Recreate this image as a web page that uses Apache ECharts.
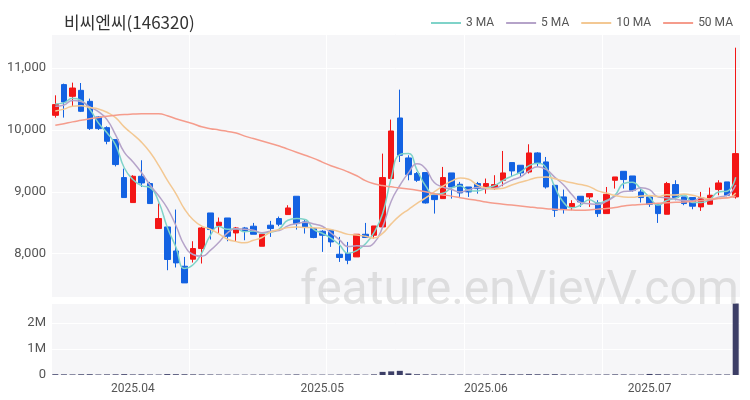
<!DOCTYPE html>
<html><head><meta charset="utf-8">
<script src="https://cdn.jsdelivr.net/npm/echarts/dist/echarts.min.js"></script>
<style>html,body{margin:0;padding:0;background:#fff}#c{width:750px;height:400px}</style>
</head><body><div id="c"></div>
<script>
const dates = [
'2025-03-19','2025-03-20','2025-03-21','2025-03-24','2025-03-25','2025-03-26','2025-03-27','2025-03-28','2025-03-31',
'2025-04-01','2025-04-02','2025-04-03','2025-04-04','2025-04-07','2025-04-08','2025-04-09','2025-04-10','2025-04-11',
'2025-04-14','2025-04-15','2025-04-16','2025-04-17','2025-04-18','2025-04-21','2025-04-22','2025-04-23','2025-04-24',
'2025-04-25','2025-04-28','2025-04-29','2025-04-30',
'2025-05-02','2025-05-07','2025-05-08','2025-05-09','2025-05-12','2025-05-13','2025-05-14','2025-05-15','2025-05-16',
'2025-05-19','2025-05-20','2025-05-21','2025-05-22','2025-05-23','2025-05-26','2025-05-27','2025-05-28','2025-05-29','2025-05-30',
'2025-06-02','2025-06-04','2025-06-05','2025-06-09','2025-06-10','2025-06-11','2025-06-12','2025-06-13','2025-06-16',
'2025-06-17','2025-06-18','2025-06-19','2025-06-20','2025-06-23','2025-06-24','2025-06-25','2025-06-26','2025-06-27','2025-06-30',
'2025-07-01','2025-07-02','2025-07-03','2025-07-04','2025-07-07','2025-07-08','2025-07-09','2025-07-10','2025-07-11','2025-07-14','2025-07-15'
];
const opens = [10236,10732,10543,10640,10462,10209,10037,9844,9230,8826,9251,9133,8406,8432,8044,7797,7911,8083,8658,8455,
8577,8335,8416,8444,8120,8460,8568,8632,8928,8513,8406,8363,8379,7991,8003,7948,8314,8298,8432,9214,
10193,9547,9295,9311,8944,8890,9305,9122,9078,9133,9052,9052,9186,9472,9429,9320,9628,9483,9105,8917,
8756,8928,8917,8826,8648,9186,9331,9256,8998,8917,8799,8637,9117,8917,8907,8756,8799,9036,9160,8917];
const closes = [10409,10451,10677,10301,10021,10021,9816,9440,8907,9251,9143,8810,8568,7906,7851,7528,8083,8416,8390,8508,
8282,8416,8367,8314,8314,8406,8476,8739,8487,8432,8261,8298,8190,7938,7894,8314,8261,8448,9230,9983,
9590,9278,9186,8820,8874,9230,9078,8982,8998,9052,9133,9116,9305,9337,9305,9628,9456,9078,8702,8713,
8810,8836,8971,8648,8960,9240,9198,9025,8907,8799,8648,9133,8907,8810,8767,8907,8944,9143,8944,9617];
const lows = [10199,10199,10386,10289,10000,10000,9768,9410,8907,8826,9078,8810,8406,7733,7777,7528,7857,7841,8229,8325,
8201,8201,8217,8314,8120,8271,8444,8632,8390,8325,8250,8029,8110,7867,7830,7948,8261,8245,8432,9214,
9482,9186,9160,8810,8648,8890,8890,8917,8917,8970,8970,9030,9090,9240,9240,9295,9402,9052,8594,8648,
8702,8756,8756,8594,8648,9052,9052,8998,8826,8756,8497,8637,8863,8783,8718,8691,8799,8944,8928,8890];
const highs = [10559,10748,10764,10758,10506,10220,10058,9844,9375,9268,9510,9160,8810,8432,8713,7948,8201,8432,8658,8584,
8577,8432,8432,8497,8314,8530,8600,8783,8928,8551,8422,8379,8379,8271,8190,8314,8497,8448,9617,10167,
10651,9590,9320,9311,8944,9402,9305,9160,9078,9160,9214,9268,9660,9472,9429,9768,9640,9563,9105,9036,
8864,8928,8971,8864,9078,9240,9331,9256,9078,8917,8799,9160,9187,8917,8907,8998,9068,9187,9160,11329];
const volumes = [30000,25000,22000,28000,30000,20000,24000,26000,32000,22000,26000,20000,18000,34000,30000,28000,24000,22000,20000,18000,
16000,15000,14000,16000,18000,15000,14000,18000,22000,16000,14000,15000,14000,18000,16000,20000,14000,24000,120000,140000,
160000,60000,30000,24000,22000,20000,22000,18000,16000,15000,16000,18000,30000,26000,24000,30000,28000,26000,30000,22000,
20000,18000,16000,18000,20000,24000,22000,18000,16000,40000,30000,24000,20000,18000,16000,18000,20000,22000,20000,2750000];
const preCloses = [10150,10200,10250,10300,10250,10350,10300,10400,10450];
const ma50 = [10074,10100,10130,10155,10180,10200,10220,10236,10248,10256,10262,10263,10260,10230,10180,10140,10100,10050,10020,10000,
9975,9950,9900,9860,9820,9780,9740,9690,9640,9590,9540,9480,9420,9374,9320,9260,9180,9130,9100,9080,
9060,9045,9025,9000,8970,8950,8930,8905,8880,8860,8835,8815,8800,8785,8770,8755,8740,8728,8720,8712,
8705,8700,8705,8720,8730,8745,8770,8785,8795,8805,8815,8825,8830,8835,8845,8860,8875,8890,8905,8927];
const legendNames = ['3 MA','5 MA','10 MA','50 MA'];
const maColors = ['#7fd3c9','#b5a3c9','#f3c893','#f59c8c'];

function movingAvg(n){
  const all = preCloses.concat(closes);
  const off = preCloses.length;
  return closes.map((c,i)=>{
    let s=0; for(let k=0;k<n;k++) s+=all[off+i-k];
    return Math.round(s/n);
  });
}
const candle = dates.map((d,i)=>[opens[i],closes[i],lows[i],highs[i]]);
const monthStart = dates.map((d,i)=> i>0 && d.slice(5,7)!==dates[i-1].slice(5,7));

const chart = echarts.init(document.getElementById('c'));
const axisTxt = {color:'#555', fontSize:12, fontFamily:'Roboto, sans-serif'};
chart.setOption({
  animation:false,
  backgroundColor:'#fff',
  title:{text:'비씨엔씨(146320)', left:59, top:9, textStyle:{fontSize:17, fontWeight:'normal', color:'#333', fontFamily:'Noto Sans CJK KR'}},
  legend:{data:legendNames, right:12, top:12, icon:'rect', itemWidth:30, itemHeight:2, itemGap:12,
    textStyle:{color:'#555', fontSize:12, fontFamily:'Roboto, sans-serif'}},
  grid:[
    {left:51, right:10, top:34, height:263, show:true, backgroundColor:'#f6f6f8', borderWidth:0},
    {left:51, right:10, top:303, height:72, show:true, backgroundColor:'#f6f6f8', borderWidth:0}
  ],
  xAxis:[
    {type:'category', data:dates, gridIndex:0, boundaryGap:true, axisLine:{show:false}, axisTick:{show:false}, axisLabel:{show:false},
     splitLine:{show:true, interval:15, lineStyle:{color:'#ffffff'}}},
    {type:'category', data:dates, gridIndex:1, boundaryGap:true, axisLine:{show:false}, axisTick:{show:false},
     axisLabel:Object.assign({interval:(i)=>monthStart[i], formatter:(v)=>v.slice(0,7).replace('-','.'), margin:8}, axisTxt),
     splitLine:{show:true, interval:15, lineStyle:{color:'#ffffff'}}}
  ],
  yAxis:[
    {type:'value', gridIndex:0, min:7300, max:11550, axisLine:{show:false}, axisTick:{show:false},
     axisLabel:Object.assign({formatter:(v)=>v.toLocaleString('en-US'), showMinLabel:false, showMaxLabel:false, margin:5}, axisTxt, {fontSize:13}),
     splitLine:{lineStyle:{color:'#ffffff'}}},
    {type:'value', gridIndex:1, min:0, max:2770000, interval:1000000, axisLine:{show:false}, axisTick:{show:false},
     axisLabel:Object.assign({formatter:(v)=> v===0?'0':(v/1000000)+'M', showMaxLabel:false, margin:5}, axisTxt, {fontSize:13}),
     splitLine:{lineStyle:{color:'#ffffff'}}}
  ],
  graphic:[{type:'text', left:300, top:268, z:50, silent:true,
    style:{text:'feature.enVievV.com', font:'48px Roboto, sans-serif', fill:'rgba(190,190,190,0.45)'}}],
  series:[
    {type:'candlestick', name:'price', data:candle, xAxisIndex:0, yAxisIndex:0, barWidth:6,
     itemStyle:{color:'#f31616', color0:'#1362e2', borderColor:'#f31616', borderColor0:'#1362e2', borderWidth:1}},
    {type:'line', name:'3 MA', data:movingAvg(3), smooth:true, showSymbol:false, lineStyle:{width:1.5, color:maColors[0]}, itemStyle:{color:maColors[0]}},
    {type:'line', name:'5 MA', data:movingAvg(5), smooth:true, showSymbol:false, lineStyle:{width:1.5, color:maColors[1]}, itemStyle:{color:maColors[1]}},
    {type:'line', name:'10 MA', data:movingAvg(10), smooth:true, showSymbol:false, lineStyle:{width:1.5, color:maColors[2]}, itemStyle:{color:maColors[2]}},
    {type:'line', name:'50 MA', data:ma50, smooth:true, showSymbol:false, lineStyle:{width:1.5, color:maColors[3]}, itemStyle:{color:maColors[3]}},
    {type:'bar', name:'vol', data:volumes, xAxisIndex:1, yAxisIndex:1, barWidth:6, itemStyle:{color:'#3c3e66'}}
  ]
});
</script></body></html>
